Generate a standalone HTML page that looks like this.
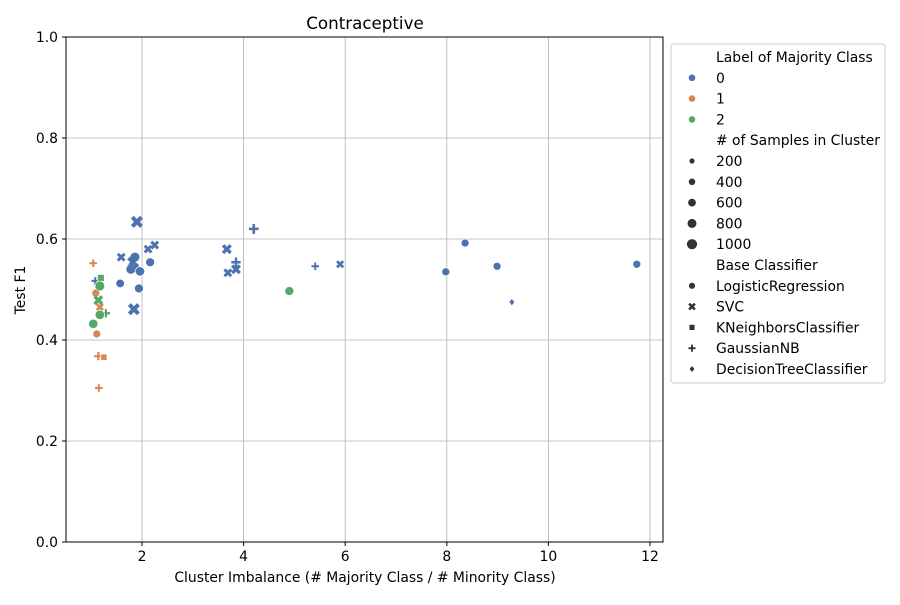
<!DOCTYPE html>
<html><head><meta charset="utf-8"><style>
body{margin:0;background:#fff;font-family:"Liberation Sans","DejaVu Sans",sans-serif}
</style></head><body>
<svg id="c" width="900" height="600" xmlns="http://www.w3.org/2000/svg" font-family="DejaVu Sans, Liberation Sans, sans-serif">
<rect width="900" height="600" fill="#fff"/>
<g id="grid"></g>
<g id="marks"></g>
<rect x="66" y="37" width="597" height="505" fill="none" stroke="#000" stroke-width="1"/>
<g id="ticks"></g>
<text x="365" y="29" text-anchor="middle" font-size="16.7">Contraceptive</text>
<text x="365" y="582" text-anchor="middle" font-size="13.9">Cluster Imbalance (# Majority Class / # Minority Class)</text>
<text x="25" y="290" text-anchor="middle" font-size="13.9" transform="rotate(-90 25 290)">Test F1</text>
<g id="legend">
<rect x="671" y="44" width="214" height="339" rx="3" fill="#fff" stroke="#ccc"/>
</g>
</svg>
<script>
const xVals=[1.9,2.25,2.12,1.59,2.16,1.86,1.82,1.78,1.84,1.96,1.57,1.94,1.84,1.08,3.67,4.2,3.85,3.85,3.69,5.41,5.9,7.98,8.36,8.99,9.28,11.74,
1.04,1.19,1.09,1.17,1.11,1.14,1.25,1.15,
1.19,1.17,1.14,1.29,1.17,1.04,4.9];
const yVals=[.634,.588,.580,.564,.554,.564,.554,.540,.542,.536,.512,.502,.461,.517,.580,.620,.554,.540,.533,.546,.550,.535,.592,.546,.475,.550,
.552,.521,.493,.465,.412,.368,.366,.305,
.523,.507,.479,.453,.450,.432,.497];
const labels=[0,0,0,0,0,0,0,0,0,0,0,0,0,0,0,0,0,0,0,0,0,0,0,0,0,0,
1,1,1,1,1,1,1,1,
2,2,2,2,2,2,2];
const classifiers=["SVC","SVC","SVC","SVC","LR","LR","SVC","LR","SVC","LR","LR","LR","SVC","GNB","SVC","GNB","GNB","SVC","SVC","GNB","SVC","LR","LR","LR","DT","LR",
"GNB","KN","LR","SVC","LR","GNB","KN","GNB",
"KN","LR","SVC","GNB","LR","LR","LR"];
const samples=[1000,300,300,300,500,700,800,700,700,600,400,500,1000,200,500,600,500,500,300,200,200,300,300,300,200,300,
200,200,300,200,300,300,200,200,
300,700,500,300,600,600,500];
const xTicks=[2,4,6,8,10,12];
const yTicks=[0.0,0.2,0.4,0.6,0.8,1.0];
const colors=["#4c72b0","#dd8452","#55a868"];
const NS="http://www.w3.org/2000/svg";
const X=v=>40.4+v*50.8, Y=v=>542-v*505;
const R=s=>2.2+Math.sqrt(s/1000)*3.2;
function mk(tag,attrs,parent){const e=document.createElementNS(NS,tag);for(const k in attrs)e.setAttribute(k,attrs[k]);parent.appendChild(e);return e;}
function marker(g,type,cx,cy,r,col){
  if(type==="LR")return mk("circle",{cx,cy,r,fill:col,stroke:"#fff","stroke-width":0.6},g);
  if(type==="KN")return mk("rect",{x:cx-r*0.85,y:cy-r*0.85,width:r*1.7,height:r*1.7,fill:col,stroke:"#fff","stroke-width":0.6},g);
  if(type==="DT")return mk("path",{d:`M${cx},${cy-r} L${cx+r*0.8},${cy} L${cx},${cy+r} L${cx-r*0.8},${cy}Z`,fill:col,stroke:"#fff","stroke-width":0.6},g);
  if(type==="SVC"){const d=r*0.85;return mk("path",{d:`M${cx-d},${cy-d}L${cx+d},${cy+d}M${cx-d},${cy+d}L${cx+d},${cy-d}`,stroke:col,"stroke-width":r*0.75,fill:"none"},g);}
  const d=r*1.05;return mk("path",{d:`M${cx-d},${cy}L${cx+d},${cy}M${cx},${cy-d}L${cx},${cy+d}`,stroke:col,"stroke-width":r*0.55,fill:"none"},g);
}
const grid=document.getElementById("grid"),ticks=document.getElementById("ticks"),marks=document.getElementById("marks");
xTicks.forEach(t=>{
  const l=mk("line",{x1:X(t),x2:X(t),y1:37,y2:542,stroke:"#b0b0b0","stroke-width":0.8},grid);
  
  
  mk("line",{x1:X(t),x2:X(t),y1:542,y2:546,stroke:"#000"},ticks);
  const tx=mk("text",{x:X(t),y:561,"text-anchor":"middle","font-size":13.9},ticks);tx.textContent=t;
  
  
});
yTicks.forEach(t=>{
  const l=mk("line",{x1:66,x2:663,y1:Y(t),y2:Y(t),stroke:"#b0b0b0","stroke-width":0.8},grid);
  
  
  mk("line",{x1:62,x2:66,y1:Y(t),y2:Y(t),stroke:"#000"},ticks);
  const tx=mk("text",{x:58,y:Y(t)+5,"text-anchor":"end","font-size":13.9},ticks);tx.textContent=t.toFixed(1);
  
  
});
xVals.forEach((v,i)=>{
  const m=marker(marks,classifiers[i],X(v),Y(yVals[i]),R(samples[i]),colors[labels[i]]);
  
  
});
const lg=document.getElementById("legend");
const entries=[["h","Label of Majority Class"],["c0","0"],["c1","1"],["c2","2"],["h","# of Samples in Cluster"],["s200","200"],["s400","400"],["s600","600"],["s800","800"],["s1000","1000"],["h","Base Classifier"],["mLR","LogisticRegression"],["mSVC","SVC"],["mKN","KNeighborsClassifier"],["mGNB","GaussianNB"],["mDT","DecisionTreeClassifier"]];
entries.forEach((e,i)=>{
  const y=57+i*20.8;
  const t=mk("text",{x:716,y:y+5,"font-size":13.9},lg);t.textContent=e[1];
  
  
  const k=e[0];
  if(k[0]==="c")mk("circle",{cx:692,cy:y,r:3.3,fill:colors[+k[1]]},lg);
  else if(k[0]==="s"){const r=[2.6,3.3,3.9,4.5,5.1][[200,400,600,800,1000].indexOf(+k.slice(1))];mk("circle",{cx:692,cy:y,r,fill:"#333"},lg);}
  else if(k[0]==="m")marker(lg,k.slice(1),692,y,3.4,"#333");
});
</script>
</body></html>
